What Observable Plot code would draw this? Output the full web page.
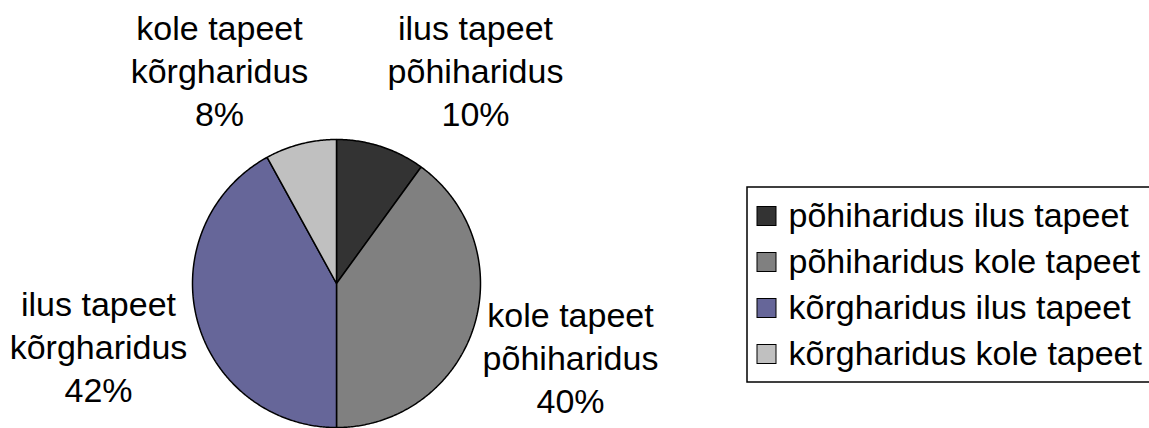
<!DOCTYPE html>
<html>
<head>
<meta charset="utf-8">
<script src="https://cdn.jsdelivr.net/npm/d3@7"></script>
<script src="https://cdn.jsdelivr.net/npm/@observablehq/plot@0.6"></script>
<style>
  html, body { margin: 0; padding: 0; background: #fff; }
  #chart svg { display: block; }
</style>
</head>
<body>
<div id="chart"></div>
<script>
// ---- data ----
const categories = ["põhiharidus ilus tapeet", "põhiharidus kole tapeet", "kõrgharidus ilus tapeet", "kõrgharidus kole tapeet"];
const sliceLabels = ["ilus tapeet\npõhiharidus", "kole tapeet\npõhiharidus", "ilus tapeet\nkõrgharidus", "kole tapeet\nkõrgharidus"];
const percents = [10, 40, 42, 8];
const colors = ["#333333", "#808080", "#666699", "#c0c0c0"];

// ---- layout (pixels) ----
const W = 1149, H = 428;
const cx = 336, cy = 283, R = 144;
const labelOffsets = [[139, -214], [234, 73], [-238, 62], [-117, -214]];
const FONT = "'Liberation Sans', Arial, sans-serif";
const FS = 34;

// pie geometry from data
const pie = d3.pie().sort(null).value(d => d)(percents);
const slicePts = [];
pie.forEach((p, i) => {
  const cat = categories[i];
  slicePts.push({cat, x: cx, y: cy});
  const n = Math.max(8, Math.ceil((p.endAngle - p.startAngle) / 0.01));
  for (let k = 0; k <= n; k++) {
    const a = p.startAngle + (p.endAngle - p.startAngle) * k / n;
    slicePts.push({cat, x: cx + R * Math.sin(a), y: cy - R * Math.cos(a)});
  }
  slicePts.push({cat, x: cx, y: cy});
});

const labels = pie.map((p, i) => ({
  text: sliceLabels[i] + "\n" + percents[i] + "%",
  x: cx + labelOffsets[i][0],
  y: cy + labelOffsets[i][1]
}));

const legendRows = categories.map((c, i) => ({cat: c, i, yc: 216 + 46 * i}));

const chart = Plot.plot({
  width: W,
  height: H,
  margin: 0,
  style: {fontFamily: FONT, background: "#fff"},
  x: {domain: [0, W], range: [0, W], axis: null},
  y: {domain: [0, H], range: [0, H], axis: null},
  color: {domain: categories, range: colors},
  marks: [
    Plot.line(slicePts, {x: "x", y: "y", z: "cat", fill: "cat", stroke: "#000", strokeWidth: 1.5, strokeLinejoin: "miter", curve: "linear"}),
    Plot.text(labels, {x: "x", y: "y", text: "text", fontSize: FS, lineHeight: 1.265, lineAnchor: "middle", textAnchor: "middle", fill: "#000"}),
    // legend
    Plot.rect([0], {x1: 747, x2: 1152, y1: 187, y2: 382, fill: "#fff", stroke: "#000", strokeWidth: 1.5}),
    Plot.rect(legendRows, {x1: 757, x2: 776, y1: d => d.yc - 9.5, y2: d => d.yc + 9.5, fill: "cat", stroke: "#000", strokeWidth: 1}),
    Plot.text(legendRows, {x: 788, y: "yc", text: "cat", fontSize: FS, textAnchor: "start", fill: "#000"})
  ]
});
document.getElementById("chart").appendChild(chart);
</script>
</body>
</html>
